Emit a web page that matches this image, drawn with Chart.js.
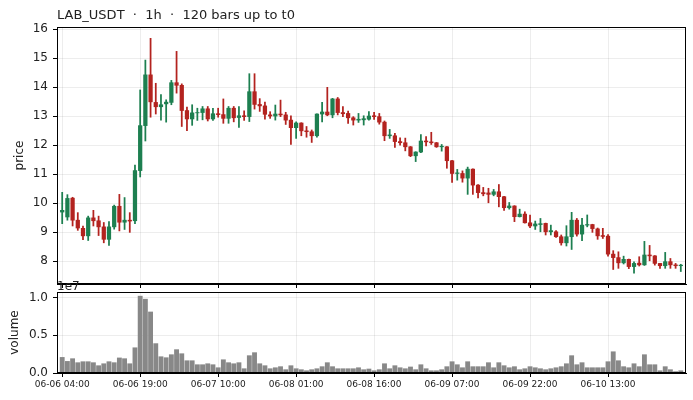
<!DOCTYPE html>
<html>
<head>
<meta charset="utf-8">
<script src="https://cdn.jsdelivr.net/npm/chart.js@4.4.1/dist/chart.umd.min.js"></script>
<style>
  body { margin: 0; background: #fff; font-family: "DejaVu Sans", sans-serif; }
  #wrap { position: relative; width: 693px; height: 400px; }
  .box { position: absolute; left: 0; width: 693px; }
  .txt { position: absolute; line-height: 1; color: #222; white-space: pre; }
</style>
</head>
<body>
<div id="wrap">
  <div class="box" style="top:0;height:290px"><canvas id="priceChart"></canvas></div>
  <div class="box" style="top:290px;height:110px"><canvas id="volChart"></canvas></div>
  <div class="txt" style="left:57px;top:8px;font-size:13px">LAB_USDT  ·  1h  ·  120 bars up to t0</div>
  <div class="txt" style="left:57px;top:280px;font-size:12px">1e7</div>
</div>
<script>
// hourly bars, 06-06 04:00 onwards
const tickIdx = [0, 15, 30, 45, 60, 75, 90, 105]
const tickLabels = ['06-06 04:00', '06-06 19:00', '06-07 10:00', '06-08 01:00',
  '06-08 16:00', '06-09 07:00', '06-09 22:00', '06-10 13:00']

const open = [9.70, 9.53, 10.18, 9.42, 9.14, 8.88, 9.50, 9.40, 9.19, 8.76,
  9.19, 9.90, 9.35, 9.42, 9.40, 11.13, 12.68, 14.43, 13.48, 13.33,
  13.43, 13.48, 14.16, 14.07, 13.20, 12.91, 13.12, 13.13, 13.26, 12.91,
  13.09, 13.06, 12.93, 13.28, 12.96, 13.02, 12.99, 13.85, 13.41, 13.36,
  13.05, 13.01, 13.08, 13.05, 12.87, 12.61, 12.77, 12.50, 12.47, 12.33,
  13.08, 13.15, 13.05, 13.60, 13.13, 13.10, 12.95, 12.87, 12.88, 12.90,
  13.02, 12.99, 12.80, 12.33, 12.33, 12.13, 12.09, 11.95, 11.64, 11.77,
  12.15, 12.12, 12.09, 11.95, 11.95, 11.47, 11.03, 11.03, 10.87, 11.18,
  10.63, 10.37, 10.36, 10.31, 10.40, 10.23, 9.85, 9.91, 9.54, 9.63,
  9.33, 9.22, 9.27, 9.31, 9.02, 9.02, 8.85, 8.64, 8.85, 9.42,
  8.94, 9.25, 9.27, 9.12, 8.89, 8.87, 8.25, 8.13, 7.95, 8.07,
  7.82, 7.94, 7.88, 8.22, 8.19, 7.93, 7.85, 7.99, 7.88, 7.85]
const high = [10.38, 10.30, 10.21, 9.68, 9.22, 9.56, 9.76, 9.56, 9.34, 9.37,
  9.94, 10.31, 10.20, 9.68, 11.32, 13.91, 14.94, 15.69, 14.14, 13.75,
  13.57, 14.24, 15.24, 14.12, 13.32, 13.40, 13.28, 13.34, 13.34, 13.28,
  13.28, 13.60, 13.34, 13.34, 13.34, 13.19, 14.47, 14.47, 13.61, 13.49,
  13.16, 13.39, 13.56, 13.14, 13.02, 12.81, 12.78, 12.65, 12.53, 13.09,
  13.48, 14.00, 13.62, 13.65, 13.34, 13.18, 12.99, 13.10, 13.02, 13.16,
  13.14, 13.10, 12.84, 12.55, 12.41, 12.26, 12.25, 11.96, 11.78, 12.37,
  12.30, 12.45, 12.10, 12.03, 11.96, 11.48, 11.17, 11.12, 11.25, 11.19,
  10.65, 10.55, 10.52, 10.48, 10.65, 10.24, 10.03, 9.92, 9.80, 9.71,
  9.60, 9.39, 9.48, 9.32, 9.25, 9.06, 8.91, 9.23, 9.69, 9.48,
  9.48, 9.60, 9.28, 9.15, 9.14, 8.92, 8.37, 8.33, 8.18, 8.08,
  7.98, 8.16, 8.69, 8.55, 8.20, 7.93, 8.31, 8.10, 7.93, 7.90]
const low = [9.30, 9.42, 9.22, 9.07, 8.75, 8.72, 9.22, 8.89, 8.64, 8.55,
  9.11, 9.05, 9.10, 9.00, 9.30, 10.91, 12.15, 12.97, 13.08, 12.87,
  12.80, 13.40, 13.80, 12.65, 12.51, 12.69, 12.86, 12.88, 12.84, 12.86,
  12.97, 12.76, 12.76, 12.81, 12.62, 12.86, 12.82, 13.25, 13.17, 12.90,
  12.93, 12.87, 12.99, 12.72, 12.03, 12.24, 12.33, 12.28, 12.10, 12.28,
  12.81, 13.02, 12.95, 13.05, 12.99, 12.76, 12.70, 12.79, 12.70, 12.87,
  12.89, 12.73, 12.16, 12.24, 11.93, 12.01, 11.81, 11.61, 11.44, 11.75,
  11.98, 12.03, 11.93, 11.80, 11.21, 10.72, 10.80, 10.73, 10.31, 10.31,
  10.19, 10.26, 10.02, 10.26, 9.88, 9.76, 9.80, 9.37, 9.53, 9.32,
  9.16, 9.10, 9.02, 8.91, 8.91, 8.83, 8.56, 8.53, 8.41, 8.87,
  8.71, 9.19, 9.00, 8.76, 8.79, 8.18, 7.72, 7.76, 7.91, 7.75,
  7.59, 7.84, 7.86, 8.02, 7.87, 7.76, 7.76, 7.76, 7.76, 7.65]
const close = [9.76, 10.17, 9.42, 9.15, 8.88, 9.50, 9.40, 9.19, 8.76, 9.19,
  9.90, 9.35, 9.42, 9.39, 11.13, 12.68, 14.43, 13.50, 13.33, 13.40,
  13.49, 14.16, 14.07, 13.20, 12.91, 13.12, 13.13, 13.26, 12.91, 13.09,
  13.06, 12.93, 13.28, 12.95, 13.02, 12.99, 13.85, 13.41, 13.36, 13.07,
  13.01, 13.08, 13.05, 12.87, 12.61, 12.77, 12.50, 12.47, 12.33, 13.08,
  13.15, 13.05, 13.60, 13.13, 13.09, 12.95, 12.87, 12.90, 12.92, 13.01,
  12.99, 12.80, 12.33, 12.36, 12.13, 12.09, 11.95, 11.64, 11.77, 12.15,
  12.12, 12.09, 11.95, 11.97, 11.47, 11.03, 11.05, 10.87, 11.18, 10.63,
  10.37, 10.33, 10.31, 10.40, 10.23, 9.85, 9.91, 9.54, 9.63, 9.33,
  9.22, 9.29, 9.30, 9.02, 9.06, 8.85, 8.64, 8.85, 9.42, 8.94,
  9.25, 9.27, 9.13, 8.88, 8.86, 8.25, 8.13, 7.95, 8.07, 7.82,
  7.93, 7.88, 8.22, 8.19, 7.93, 7.85, 7.99, 7.88, 7.85, 7.87]
// volume in millions (axis shows x1e7)
const volume = [2.07, 1.54, 1.90, 1.37, 1.50, 1.50, 1.37, 0.97, 1.23, 1.50,
  1.37, 2.00, 1.90, 1.23, 3.35, 10.2, 9.8, 8.1, 3.9, 2.16,
  2.03, 2.43, 3.1, 2.56, 1.63, 1.63, 1.1, 1.1, 1.23, 1.1,
  0.7, 1.76, 1.37, 1.23, 1.37, 0.57, 2.3, 2.7, 1.23, 0.97,
  0.57, 0.7, 0.84, 0.44, 0.97, 0.57, 0.44, 0.3, 0.44, 0.57,
  0.84, 1.37, 0.84, 0.57, 0.57, 0.57, 0.57, 0.7, 0.44, 0.53,
  0.3, 0.44, 1.23, 0.57, 0.97, 0.7, 0.57, 0.8, 0.44, 1.1,
  0.57, 0.3, 0.3, 0.44, 0.84, 1.5, 1.1, 0.7, 1.5, 0.84,
  0.84, 0.84, 1.37, 0.7, 1.37, 0.97, 0.7, 0.84, 0.44, 0.57,
  0.84, 0.7, 0.57, 0.44, 0.57, 0.7, 0.84, 1.23, 2.3, 1.1,
  1.37, 0.7, 0.7, 0.7, 0.7, 1.5, 2.82, 1.63, 0.84, 0.7,
  1.23, 0.84, 2.43, 1.1, 1.1, 0.3, 0.84, 0.44, 0.18, 0.3]

const UP = '#1d7f50'
const DOWN = '#b3231f'
const GRID = 'rgba(0,0,0,0.07)'
const FONT = 'DejaVu Sans'

const colors = close.map((c, i) => c >= open[i] ? UP : DOWN)

// black box round each plot area
const frame = {
    id: 'frame',
    afterDraw(chart) {
        const a = chart.chartArea
        const ctx = chart.ctx
        ctx.save()
        ctx.strokeStyle = '#000'
        ctx.lineWidth = 1
        ctx.strokeRect(Math.round(a.left) + 0.5, Math.round(a.top) + 0.5,
            Math.round(a.right - a.left) - 1, Math.round(a.bottom - a.top) - 1)
        ctx.restore()
    }
}

function xAxis(showLabels, height){
    return {
        type: 'linear',
        min: -1,
        max: 120,
        offset: false,
        afterBuildTicks: (axis) => { axis.ticks = tickIdx.map(v => ({value: v})) },
        afterFit: (axis) => { axis.height = height; axis.paddingLeft = 0; axis.paddingRight = 0 },
        grid: {color: GRID, tickColor: '#000', tickLength: 4, drawTicks: true, offset: false},
        border: {color: '#000'},
        ticks: {
            display: showLabels,
            autoSkip: false,
            maxRotation: 0,
            padding: 2,
            color: '#222',
            font: {family: FONT, size: 9},
            callback: (v, i) => tickLabels[i]
        }
    }
}

function yFit(axis){
    axis.width = 57
    axis.paddingTop = 0
    axis.paddingBottom = 0
}

new Chart(document.getElementById('priceChart'), {
    type: 'bar',
    data: {
        datasets: [{
            data: open.map((o, i) => ({x: i, y: [o, close[i]]})),
            backgroundColor: colors,
            barThickness: 3.6,
            grouped: false
        }, {
            data: low.map((l, i) => ({x: i, y: [l, high[i]]})),
            backgroundColor: colors,
            barThickness: 1.1,
            grouped: false
        }]
    },
    options: {
        responsive: true,
        maintainAspectRatio: false,
        animation: false,
        layout: {padding: {top: 27, right: 7, left: 0, bottom: 0}},
        plugins: {legend: {display: false}, tooltip: {enabled: false}},
        scales: {
            x: xAxis(false, 6),
            y: {
                min: 7.22,
                max: 16.08,
                afterFit: yFit,
                grid: {color: GRID, tickColor: '#000', tickLength: 4},
                border: {color: '#000'},
                ticks: {stepSize: 1, includeBounds: false, padding: 5, color: '#222',
                    font: {family: FONT, size: 12}},
                title: {display: true, text: 'price', color: '#222',
                    font: {family: FONT, size: 12}, padding: {top: 13, bottom: 0}}
            }
        }
    },
    plugins: [frame]
})

new Chart(document.getElementById('volChart'), {
    type: 'bar',
    data: {
        datasets: [{
            data: volume.map((v, i) => ({x: i, y: v})),
            backgroundColor: '#888888',
            barThickness: 4.2
        }]
    },
    options: {
        responsive: true,
        maintainAspectRatio: false,
        animation: false,
        layout: {padding: {top: 2, right: 7, left: 0, bottom: 0}},
        plugins: {legend: {display: false}, tooltip: {enabled: false}},
        scales: {
            x: xAxis(true, 27),
            y: {
                min: 0,
                max: 10.75,
                afterFit: yFit,
                grid: {color: GRID, tickColor: '#000', tickLength: 4},
                border: {color: '#000'},
                ticks: {stepSize: 5, includeBounds: false, padding: 5, color: '#222',
                    font: {family: FONT, size: 12},
                    callback: (v) => (v / 10).toFixed(1)},
                title: {display: true, text: 'volume', color: '#222',
                    font: {family: FONT, size: 12}, padding: {top: 8, bottom: 0}}
            }
        }
    },
    plugins: [frame]
})
</script>
</body>
</html>
